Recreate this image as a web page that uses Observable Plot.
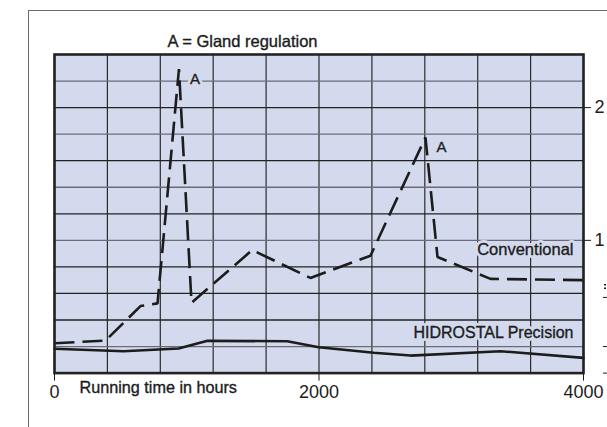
<!DOCTYPE html>
<html>
<head>
<meta charset="utf-8">
<script src="https://cdn.jsdelivr.net/npm/d3@7"></script>
<script src="https://cdn.jsdelivr.net/npm/@observablehq/plot@0.6"></script>
<style>
  body { margin: 0; background: #fff; }
  #wrap { position: relative; width: 607px; height: 427px; overflow: hidden; }
  #wrap svg { position: absolute; left: 0; top: 0; }
  #border { position: absolute; left: 28px; top: 10px; right: -2px; bottom: -2px;
            border-top: 1.5px solid #6a6a6a; border-left: 1.5px solid #6a6a6a; pointer-events: none; }
</style>
</head>
<body>
<div id="wrap"></div>
<script>
// ---- data ----
const convHours    = [0, 386, 650, 779, 941, 1036, 1495, 1935, 2389, 2805, 2896, 3297, 4000];
const conventional = [0.225, 0.245, 0.505, 0.525, 2.29, 0.53, 0.927, 0.717, 0.884, 1.775, 0.875, 0.71, 0.70];

const hidHours  = [0, 522, 938, 1157, 1760, 1998, 2414, 2692, 3372, 4000];
const hidrostal = [0.183, 0.165, 0.185, 0.243, 0.24, 0.195, 0.153, 0.132, 0.165, 0.115];

const xTickValues  = [0, 2000, 4000];
const yTickValues  = [1, 2];
const yMinorTicks  = [0, 0.2, 0.57];
const yDotTicks    = [0.64, 0.665];
const xGridValues  = [0, 400, 800, 1200, 1600, 2000, 2400, 2800, 3200, 3600, 4000];
const yGridDark    = [0.4, 0.8, 1.2, 1.6, 2.0, 0.6];
const yGridGray    = [0.2, 1.0, 1.4, 1.8, 2.2];

const titleText  = "A = Gland regulation";
const xLabelText = "Running time in hours";
const convLabel  = "Conventional";
const hidLabel   = "HIDROSTAL Precision";
const peakLabel  = "A";

// ---- tables ----
const convData = convHours.map((h, i) => ({h, v: conventional[i]}));
const hidData  = hidHours.map((h, i) => ({h, v: hidrostal[i]}));
const peaks = convData.filter((d, i) => i > 0 && i < convData.length - 1 &&
  d.v > convData[i - 1].v && d.v > convData[i + 1].v && d.v > 1.5);

const bg = "#d4daed";
const ink = "#1c1c1c";
const font = "'Liberation Sans', Arial, Helvetica, sans-serif";

// label with a halo in the plot background colour, then slightly heavier ink on top
function haloText(data, opts) {
  return [
    Plot.text(data, {...opts, fill: bg, stroke: bg, strokeWidth: 6}),
    Plot.text(data, {...opts, fill: ink, stroke: ink, strokeWidth: 0.35})
  ];
}

const chart = Plot.plot({
  width: 607,
  height: 427,
  marginLeft: 54,
  marginRight: 24,
  marginTop: 54,
  marginBottom: 54.4,
  x: {domain: [0, 4000], label: null},
  y: {domain: [0, 2.4], label: null},
  style: {fontFamily: font, fontSize: "16px", color: ink, background: "transparent"},
  marks: [
    Plot.frame({fill: bg, stroke: null}),
    Plot.ruleX(xGridValues, {stroke: "#2b2b2b", strokeWidth: 1.2}),
    Plot.ruleY(yGridGray, {stroke: "#6b6b76", strokeWidth: 1.3}),
    Plot.ruleY(yGridDark, {stroke: "#222", strokeWidth: 1.3}),
    ...haloText([hidData[hidData.length - 1]], {x: "h", y: "v", text: () => hidLabel,
      textAnchor: "end", dx: -10, dy: -25, fontSize: 16}),
    ...haloText([convData[convData.length - 1]], {x: "h", y: "v", text: () => convLabel,
      textAnchor: "end", dx: -10, dy: -30, fontSize: 16.5}),
    ...haloText(peaks, {x: "h", y: "v", text: () => peakLabel,
      textAnchor: "start", dx: 11, dy: 10, fontSize: 15}),
    // series
    Plot.line(hidData, {x: "h", y: "v", stroke: ink, strokeWidth: 2.6, strokeLinejoin: "round"}),
    Plot.line(convData, {x: "h", y: "v", stroke: ink, strokeWidth: 2.6,
      strokeDasharray: "20,8", strokeLinecap: "butt", strokeLinejoin: "miter"}),
    Plot.frame({stroke: "#222", strokeWidth: 2.6}),
    // axes
    Plot.axisX(xTickValues, {tickSize: 8, tickPadding: 4, fontSize: 18,
      tickFormat: d => String(d), label: null, stroke: ink}),
    Plot.axisY(yTickValues, {anchor: "right", tickSize: 7, tickPadding: 4, fontSize: 18,
      tickFormat: d => String(d), label: null, stroke: ink}),
    Plot.axisY(yMinorTicks, {anchor: "right", tickSize: 4, dx: 19,
      tickFormat: () => "", label: null, stroke: ink}),
    Plot.axisY(yDotTicks, {anchor: "right", tickSize: 2, dx: 20, strokeWidth: 1.5,
      tickFormat: () => "", label: null, stroke: ink}),
    // title and x label
    Plot.text([titleText], {frameAnchor: "top-left", dx: 113, dy: -19.5,
      textAnchor: "start", fontSize: 16.5, fill: ink, stroke: ink, strokeWidth: 0.35}),
    Plot.text([xLabelText], {frameAnchor: "bottom-left", dx: 25, dy: 19.5,
      textAnchor: "start", fontSize: 16.2, fill: ink, stroke: ink, strokeWidth: 0.35})
  ]
});

const wrap = document.getElementById("wrap");
wrap.appendChild(chart);
const border = document.createElement("div");
border.id = "border";
wrap.appendChild(border);
</script>
</body>
</html>
